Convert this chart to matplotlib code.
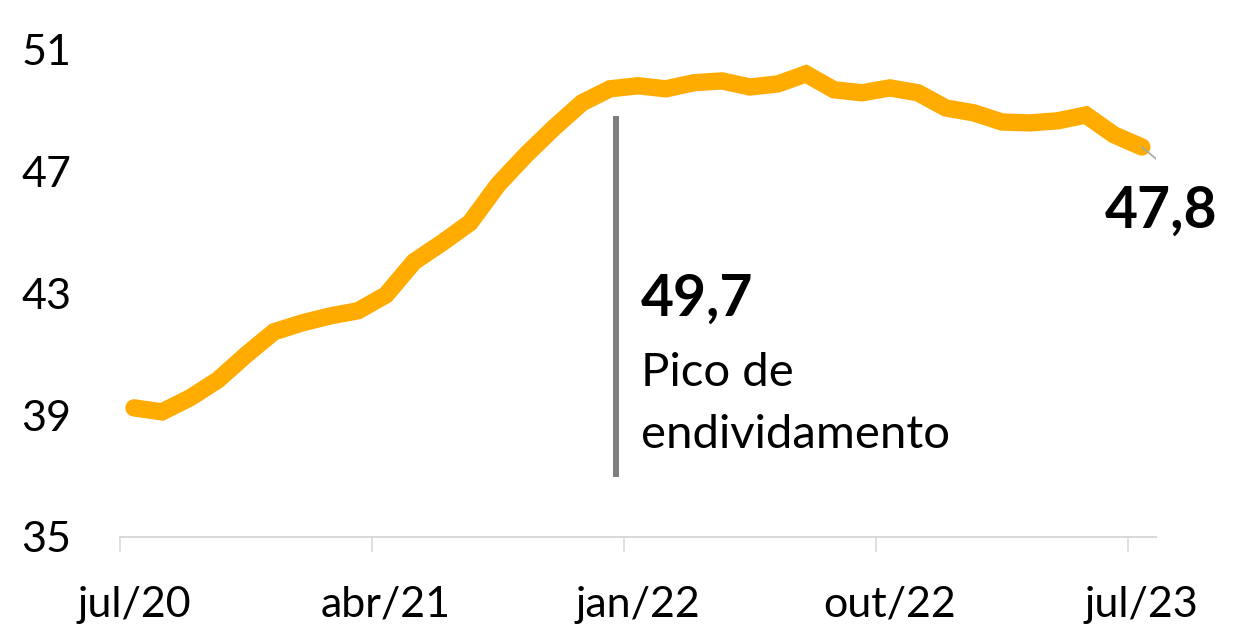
import matplotlib.pyplot as plt

# endividamento das familias (%), mensal jul/20 a jul/23
months = ['jul/20', 'ago/20', 'set/20', 'out/20', 'nov/20', 'dez/20',
          'jan/21', 'fev/21', 'mar/21', 'abr/21', 'mai/21', 'jun/21',
          'jul/21', 'ago/21', 'set/21', 'out/21', 'nov/21', 'dez/21',
          'jan/22', 'fev/22', 'mar/22', 'abr/22', 'mai/22', 'jun/22',
          'jul/22', 'ago/22', 'set/22', 'out/22', 'nov/22', 'dez/22',
          'jan/23', 'fev/23', 'mar/23', 'abr/23', 'mai/23', 'jun/23',
          'jul/23']
debt = [39.24, 39.11, 39.57, 40.16, 40.98, 41.74, 42.03, 42.26, 42.43,
        42.95, 44.04, 44.66, 45.32, 46.57, 47.55, 48.44, 49.26, 49.72,
        49.82, 49.72, 49.92, 49.98, 49.78, 49.88, 50.21, 49.69, 49.59,
        49.75, 49.59, 49.09, 48.93, 48.63, 48.60, 48.67, 48.86, 48.21,
        47.81]
tick_labels = ['jul/20', 'abr/21', 'jan/22', 'out/22', 'jul/23']
yticks = [35, 39, 43, 47, 51]

plt.rcParams['font.family'] = ['Lato', 'DejaVu Sans']

fig = plt.figure(figsize=(12.45, 6.31), dpi=100)
ax = fig.add_axes([0.0964, 0.149, 0.832, 0.772])

x = list(range(len(months)))
ax.plot(x, debt, color='#FFAB00', linewidth=12.5, solid_capstyle='round',
        solid_joinstyle='miter')

ax.set_xlim(-0.5, len(months) - 0.5)
ax.set_ylim(35, 51)

# labels at the points, tick marks between categories
label_pos = [months.index(t) for t in tick_labels]
ax.set_xticks(label_pos)
ax.set_xticklabels(tick_labels, fontsize=31)
ax.set_xticks([p - 0.5 for p in label_pos], minor=True)
ax.tick_params(axis='x', which='major', length=0, pad=35)
ax.tick_params(axis='x', which='minor', length=11, color='#D9D9D9', width=1.2)

ax.set_yticks(yticks)
ax.set_yticklabels([str(v) for v in yticks], fontsize=31)
ax.tick_params(axis='y', length=0, pad=35)

for s in ['top', 'right', 'left']:
    ax.spines[s].set_visible(False)
ax.spines['bottom'].set_color('#D9D9D9')
ax.spines['bottom'].set_linewidth(1.5)

# pico de endividamento
peak = months.index('dez/21')
ax.plot([peak + 0.2, peak + 0.2], [37.07, 48.73], color='#7F7F7F', linewidth=4.3)
ax.text(peak + 1.1, 42.8, '49,7', fontsize=41, fontweight='bold', va='center', ha='left')
ax.text(peak + 1.1, 40.4, 'Pico de', fontsize=34, va='center', ha='left')
ax.text(peak + 1.1, 38.35, 'endividamento', fontsize=34, va='center', ha='left')

# ultimo valor
last = len(months) - 1
ax.plot([last, last + 0.65], [debt[-1], debt[-1] - 0.5], color='#A6A6A6', linewidth=1.2)
ax.text(last + 0.7, 45.7, '47,8', fontsize=41, fontweight='bold', va='center', ha='center')

fig.savefig('out.png', dpi=100)
